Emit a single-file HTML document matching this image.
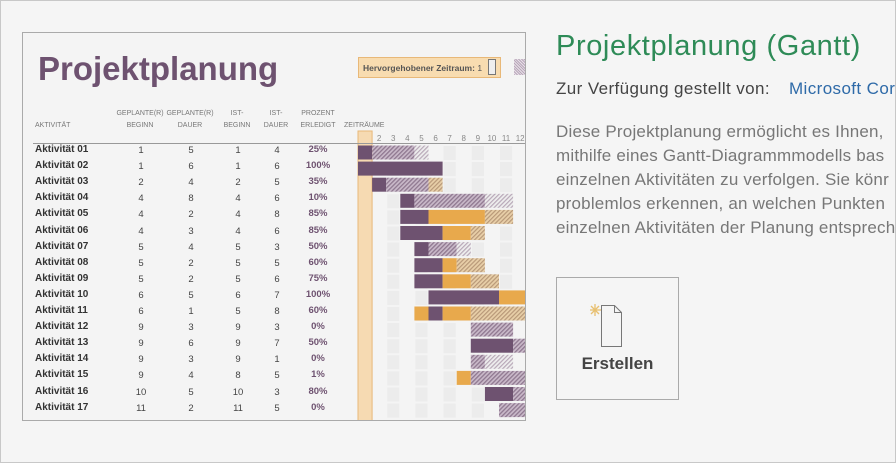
<!DOCTYPE html>
<html><head><meta charset="utf-8"><style>
*{margin:0;padding:0;box-sizing:border-box}
body{width:896px;height:463px;background:#f5f5f5;position:relative;overflow:hidden;font-family:"Liberation Sans",sans-serif}
.a{position:absolute;white-space:nowrap}
.frame{position:absolute;left:0;top:0;width:896px;height:463px;border:1px solid #c8c8c8}
.panel{position:absolute;left:22px;top:32px;width:504px;height:389px;border:1px solid #aaa;background:#f4f4f4;overflow:hidden}
.h{font-size:7px;color:#777;text-align:center;line-height:12px}
.n{font-size:9.5px;color:#444;text-align:center;width:30px}
.p{font-size:9.5px;color:#6e5270;font-weight:bold;text-align:center;width:40px}
.lab{font-size:10px;font-weight:bold;color:#333}
</style></head><body>
<div class="frame"></div>
<div class="panel">
<div class="a" style="left:15px;top:17px;font-size:33px;font-weight:bold;color:#6e5270">Projektplanung</div>
<div class="a" style="left:335px;top:24px;width:143px;height:21px;background:#f8dcb0;border:1px solid #e8b878;font-size:8.5px;font-weight:bold;color:#555;padding:5px 0 0 4px">Hervorgehobener Zeitraum: <span style="font-weight:normal">1</span></div>
<div class="a" style="left:465px;top:26px;width:8px;height:16px;border:1px solid #777;background:#eee"></div>
<div class="a" style="left:491px;top:26px;width:12px;height:16px;background:repeating-linear-gradient(45deg,#b9a8ba 0 1px,#e8e0e8 1px 2px)"></div>
<div class="a h" style="left:12px;top:87px">AKTIVITÄT</div>
<div class="a h" style="left:87px;top:75px;width:60px">GEPLANTE(R)<br>BEGINN</div>
<div class="a h" style="left:137px;top:75px;width:60px">GEPLANTE(R)<br>DAUER</div>
<div class="a h" style="left:194px;top:75px;width:40px">IST-<br>BEGINN</div>
<div class="a h" style="left:233px;top:75px;width:40px">IST-<br>DAUER</div>
<div class="a h" style="left:270px;top:75px;width:50px">PROZENT<br>ERLEDIGT</div>
<div class="a h" style="left:321px;top:87px">ZEITRÄUME</div>
<div class="a" style="left:10px;top:110px;width:325px;height:1px;background:#999"></div>
<div id="rows"></div>
<svg class="a" style="left:0;top:0" width="504" height="389">
<defs>
<pattern id="ph" width="3" height="3" patternUnits="userSpaceOnUse" patternTransform="rotate(45)"><rect width="3" height="3" fill="#c9b9c9"/><rect width="1.3" height="3" fill="#8f7890"/></pattern>
<pattern id="pl" width="3" height="3" patternUnits="userSpaceOnUse" patternTransform="rotate(45)"><rect width="3" height="3" fill="#eee"/><rect width="1.2" height="3" fill="#b8a8b8"/></pattern>
<pattern id="pt" width="3" height="3" patternUnits="userSpaceOnUse" patternTransform="rotate(45)"><rect width="3" height="3" fill="#e8cfa8"/><rect width="1.2" height="3" fill="#b89878"/></pattern>
</defs>
<g id="g"></g>
</svg>
</div>
<div class="a" style="left:556px;top:30px;font-size:29px;letter-spacing:0.6px;color:#2e8b57">Projektplanung (Gantt)</div>
<div class="a" style="left:556px;top:79px;font-size:17px;letter-spacing:0.4px;color:#444">Zur Verfügung gestellt von:</div>
<div class="a" style="left:789px;top:79px;font-size:17px;letter-spacing:0.4px;color:#2e6aa8">Microsoft Cor</div>
<div class="a" style="left:556px;top:120px;font-size:17px;line-height:24px;letter-spacing:0.2px;color:#777">Diese Projektplanung ermöglicht es Ihnen,<br>mithilfe eines Gantt-Diagrammmodells bas<br>einzelnen Aktivitäten zu verfolgen. Sie könr<br>problemlos erkennen, an welchen Punkten<br>einzelnen Aktivitäten der Planung entsprech</div>
<div class="a" style="left:556px;top:277px;width:123px;height:123px;border:1px solid #aaa"></div>
<svg class="a" style="left:590px;top:300px" width="45" height="50"><path d="M11.5 5.5 H24.5 L31.5 12.5 V46.5 H11.5 Z M24.5 5.5 V12.5 H31.5" fill="none" stroke="#777"/><g stroke="#e8c070" stroke-width="1.3"><line x1="5" y1="4" x2="5" y2="16"/><line x1="-1" y1="10" x2="11" y2="10"/><line x1="1" y1="6" x2="9" y2="14"/><line x1="9" y1="6" x2="1" y2="14"/></g></svg>
<div class="a" style="left:556px;top:354px;width:123px;text-align:center;font-size:17px;font-weight:bold;color:#444">Erstellen</div>
<script>
var d=[[1,5,1,4,"25%"],[1,6,1,6,"100%"],[2,4,2,5,"35%"],[4,8,4,6,"10%"],[4,2,4,8,"85%"],[4,3,4,6,"85%"],[5,4,5,3,"50%"],[5,2,5,5,"60%"],[5,2,5,6,"75%"],[6,5,6,7,"100%"],[6,1,5,8,"60%"],[9,3,9,3,"0%"],[9,6,9,7,"50%"],[9,3,9,1,"0%"],[9,4,8,5,"1%"],[10,5,10,3,"80%"],[11,2,11,5,"0%"]];
var h="";
d.forEach(function(r,i){var t=112+16.1*i;
h+='<div class="a lab" style="left:12px;top:'+(t-1)+'px">Aktivität '+(i<9?'0':'')+(i+1)+'</div>';
[117,167,214,253].forEach(function(x,j){h+='<div class="a n" style="left:'+(x-15+1)+'px;top:'+t+'px">'+r[j]+'</div>'});
h+='<div class="a p" style="left:275px;top:'+(t-1)+'px">'+r[4]+'</div>';});
document.getElementById('rows').innerHTML=h;
var S=[[[1,1,'D'],[2,3,'H'],[5,1,'L']],[[1,6,'D']],[[2,1,'D'],[3,3,'H'],[6,1,'T']],[[4,1,'D'],[5,5,'H'],[10,2,'L']],[[4,2,'D'],[6,4,'O'],[10,2,'T']],[[4,3,'D'],[7,2,'O'],[9,1,'T']],[[5,1,'D'],[6,2,'H'],[8,1,'L']],[[5,2,'D'],[7,1,'O'],[8,2,'T']],[[5,2,'D'],[7,2,'O'],[9,2,'T']],[[6,5,'D'],[11,2,'O']],[[5,1,'O'],[6,1,'D'],[7,2,'O'],[9,4,'T']],[[9,3,'H']],[[9,3,'D'],[12,1,'H']],[[9,1,'H'],[10,2,'L']],[[8,1,'O'],[9,4,'H']],[[10,2,'D'],[12,1,'H']],[[11,2,'H']]];
var C={D:'#6e5270',H:'url(#ph)',L:'url(#pl)',T:'url(#pt)',O:'#e8a94c'};
var X0=335,W=14.1,g="";
for(var k=1;k<=12;k++){var x=X0+W*(k-1);
g+='<text x="'+(x+W/2)+'" y="108" font-size="8" fill="#888" text-anchor="middle" font-family="Liberation Sans">'+k+'</text>';
if(k==1)g+='<rect x="'+x+'" y="98" width="'+W+'" height="300" fill="#f6dab2" stroke="#e8b878"/>';
else if(k%2==1)for(var i=0;i<17;i++)g+='<rect x="'+(x+1)+'" y="'+(113+16.1*i)+'" width="'+(W-2)+'" height="14" fill="#ececec"/>';}
g+='<line x1="320" y1="110.5" x2="504" y2="110.5" stroke="#999"/>';
S.forEach(function(r,i){var y=112.5+16.1*i;r.forEach(function(s){g+='<rect x="'+(X0+W*(s[0]-1))+'" y="'+y+'" width="'+(W*s[1])+'" height="14" fill="'+C[s[2]]+'"/>'})});
document.getElementById('g').innerHTML=g;
</script>
</body></html>
